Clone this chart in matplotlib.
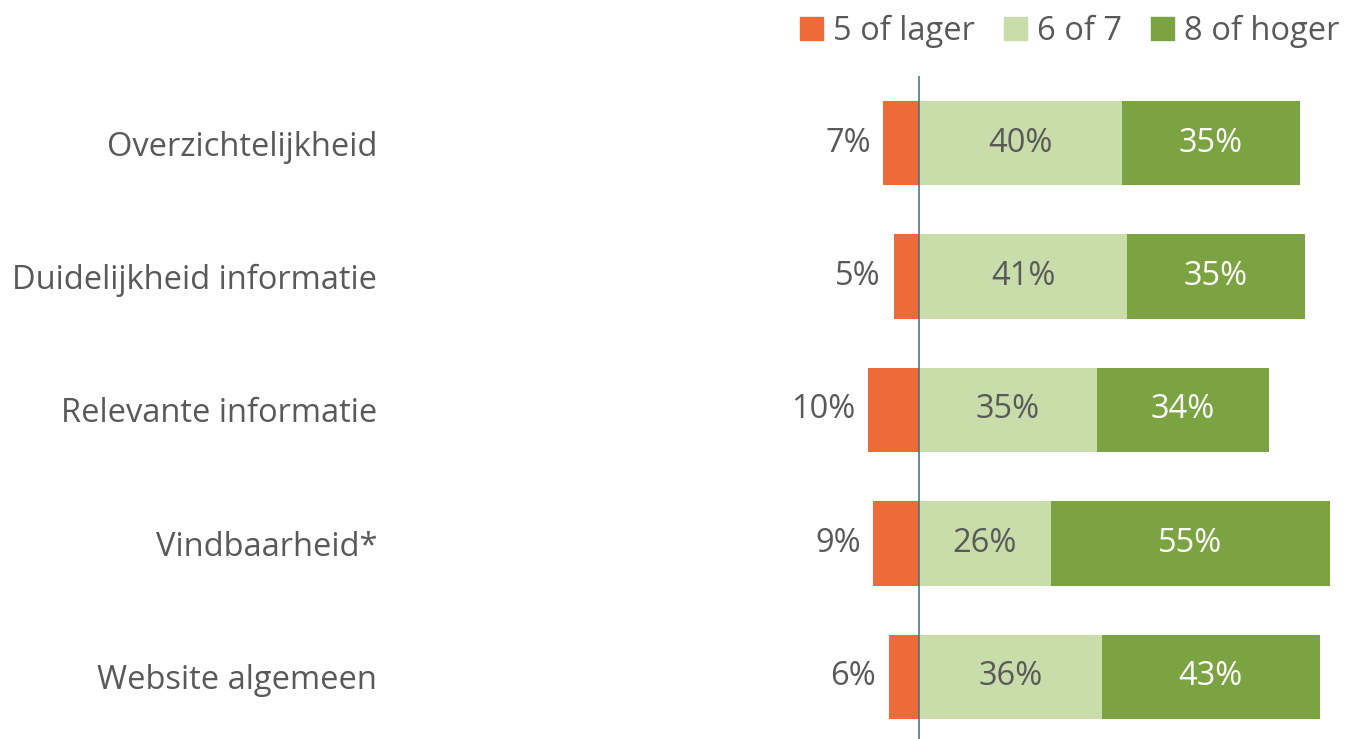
import matplotlib
matplotlib.use("Agg")
import matplotlib.pyplot as plt
from matplotlib.patches import Patch

plt.rcParams['font.family'] = ['Open Sans', 'DejaVu Sans']

categories = ["Overzichtelijkheid", "Duidelijkheid informatie", "Relevante informatie",
              "Vindbaarheid*", "Website algemeen"]
low = [7, 5, 10, 9, 6]        # 5 of lager
mid = [40, 41, 35, 26, 36]    # 6 of 7
high = [35, 35, 34, 55, 43]   # 8 of hoger
series_names = ["5 of lager", "6 of 7", "8 of hoger"]

c_low = "#EE6A38"
c_mid = "#C8DDAA"
c_high = "#7CA342"
txt = "#595959"
fs = 23.5

fig = plt.figure(figsize=(13.55, 7.39), dpi=100)
ax = fig.add_axes([0.6125, -0.0064, 0.3875, 0.9032])

y = list(range(len(categories)))
h = 0.63
ax.barh(y, [-v for v in low], height=h, color=c_low)
ax.barh(y, mid, height=h, color=c_mid)
ax.barh(y, high, left=mid, height=h, color=c_high)

for i in y:
    ax.text(-low[i] - 2.5, i, f"{low[i]}%", ha="right", va="center", fontsize=fs, color=txt)
    ax.text(mid[i] / 2, i, f"{mid[i]}%", ha="center", va="center", fontsize=fs, color=txt)
    ax.text(mid[i] + high[i] / 2, i, f"{high[i]}%", ha="center", va="center", fontsize=fs, color="white")

ax.set_xlim(-17.54, 85.9)
ax.set_ylim(4.5, -0.5)
ax.axvline(0, color="#3C6E82", lw=1.1)

for s in ax.spines.values():
    s.set_visible(False)
ax.set_xticks([])
ax.set_yticks(y)
ax.set_yticklabels(categories, fontsize=fs, color=txt)
ax.tick_params(axis="y", length=0, pad=326)

handles = [Patch(color=c) for c in (c_low, c_mid, c_high)]
fig.legend(handles, series_names, loc="upper right", bbox_to_anchor=(0.998, 0.998), ncol=3,
           frameon=False, fontsize=fs, labelcolor=txt, handlelength=0.7, handleheight=0.7,
           handletextpad=0.3, columnspacing=0.9, borderaxespad=0.0)

fig.savefig("out.png", dpi=100)
